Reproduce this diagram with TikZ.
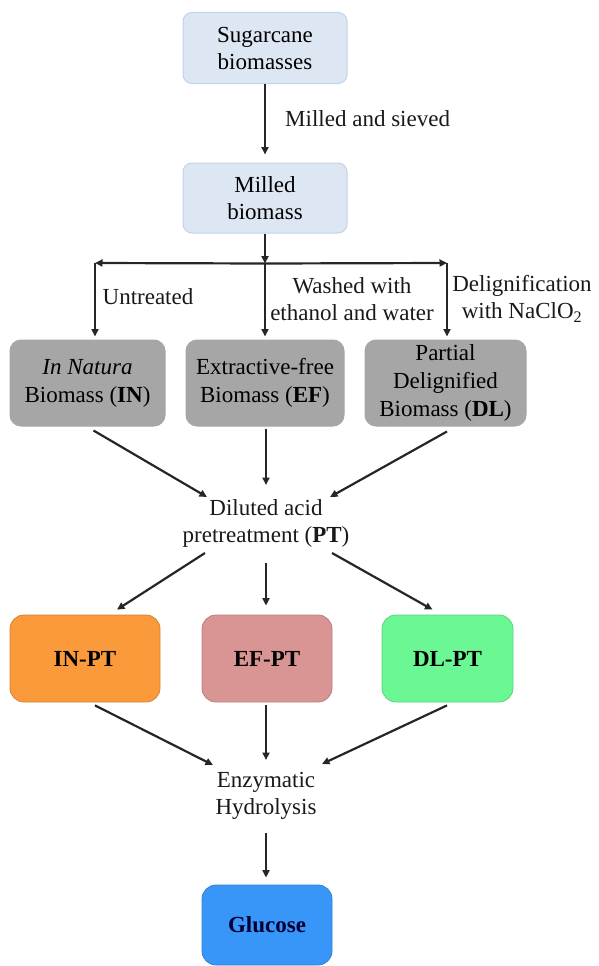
\documentclass[tikz,border=0pt]{standalone}
\usepackage{fontspec}
\setmainfont{Liberation Serif}
\usetikzlibrary{arrows.meta,calc}
\definecolor{lblue}{HTML}{DDE7F3}
\definecolor{lblueline}{HTML}{C3D2E6}
\definecolor{boxgray}{HTML}{A6A6A6}
\definecolor{boxorange}{HTML}{FA9A3A}
\definecolor{boxpink}{HTML}{D99594}
\definecolor{boxgreen}{HTML}{6AF794}
\definecolor{boxblue}{HTML}{3896F8}
\newcommand{\fsz}{\fontsize{23}{27}\selectfont}
\begin{document}
\begin{tikzpicture}[x=1pt,y=-1pt,
  bluebox/.style={fill=lblue,draw=lblueline,line width=1pt,rounded corners=9pt,
    minimum width=164pt,minimum height=71pt,align=center,font=\fsz,inner sep=0pt},
  graybox/.style={fill=boxgray,draw=boxgray,line width=1pt,rounded corners=11pt,
    minimum height=86pt,align=center,font=\fontsize{23}{28}\selectfont,inner sep=0pt},
  colbox/.style={draw=#1!85!black,fill=#1,line width=0.8pt,rounded corners=14pt,
    minimum height=87pt,align=center,font=\fsz\bfseries,inner sep=0pt},
  lbl/.style={align=center,font=\fsz,inner sep=0pt,text=black!90},
  arr/.style={-{Triangle[length=7.5pt,width=7pt]},line width=2.2pt,draw=black!85}]
\useasboundingbox (0,0) rectangle (598,966);

\node[bluebox] (sug) at (265,48) {Sugarcane\\biomasses};
\node[bluebox,minimum height=70pt] (mil) at (265,198) {Milled\\biomass};
\node[lbl,anchor=west] (msv) at (285,119) {Milled and sieved};

\node[graybox,minimum width=155pt] (in) at (87.5,383) {\textit{In Natura}\\Biomass (\textbf{IN})};
\node[graybox,minimum width=158pt] (ef) at (265,383) {Extractive-free\\Biomass (\textbf{EF})};
\node[graybox,minimum width=161pt] (dl) at (445.5,383) {Partial\\Delignified\\Biomass (\textbf{DL})};

\node[lbl] (untr) at (148,297) {Untreated};
\node[lbl] (wash) at (352,299) {Washed with\\ethanol and water};
\node[lbl] (delig) at (522,299) {Delignification\\with NaClO\textsubscript{2}};

\node[lbl] (pt) at (266,523) {Diluted acid\\pretreatment (\textbf{PT})};

\node[colbox=boxorange,minimum width=150pt] (inpt) at (85,658.5) {IN-PT};
\node[colbox=boxpink,minimum width=130pt] (efpt) at (267,658.5) {EF-PT};
\node[colbox=boxgreen,minimum width=131pt] (dlpt) at (447.5,658.5) {DL-PT};

\node[lbl] (enz) at (266,796) {Enzymatic\\Hydrolysis};
\node[colbox=boxblue,minimum width=130pt,minimum height=80pt] (glu) at (267,925) {\textcolor{black!80!blue}{Glucose}};

% top
\draw[arr] (sug.south) -- ($(mil.north)+(0,-8)$);
\coordinate (jC) at ($(mil.south)+(0,30)$);
\coordinate (jL) at (95,263);
\coordinate (jR) at (447,263);
\draw[arr] (mil.south) -- (jC);
\draw[arr] (jC) -- (jL);
\draw[arr] (jC) -- (jR);
\draw[arr] (jL) -- ($(jL |- in.north)+(0,-3)$);
\draw[arr] (jC) -- ($(jC |- ef.north)+(0,-3)$);
\draw[arr] (jR) -- ($(jR |- dl.north)+(0,-3)$);

% to PT
\draw[arr] ($(in.south)+(6,4)$) -- ($(pt.center)+(-59,-26)$);
\draw[arr] ($(ef.south)+(1,2)$) -- ($(pt.center)+(0,-38)$);
\draw[arr] ($(dl.south)+(1.5,5)$) -- ($(pt.center)+(64,-26)$);

% from PT
\draw[arr] ($(pt.center)+(-61,30)$) -- ($(inpt.north)+(32,-5)$);
\draw[arr] ($(pt.center)+(0,40)$) -- ($(efpt.north)+(-1,-9)$);
\draw[arr] ($(pt.center)+(66,30)$) -- ($(dlpt.north)+(-15,-5)$);

% to enzymatic
\draw[arr] ($(inpt.south)+(10,3)$) -- ($(enz.center)+(-53,-31)$);
\draw[arr] ($(efpt.south)+(-1,3)$) -- ($(enz.center)+(0,-36)$);
\draw[arr] ($(dlpt.south)+(-0.5,3)$) -- ($(enz.center)+(56,-32)$);
\draw[arr] ($(enz.center)+(0,37)$) -- ($(glu.north)+(-1,-7)$);
\end{tikzpicture}
\end{document}
